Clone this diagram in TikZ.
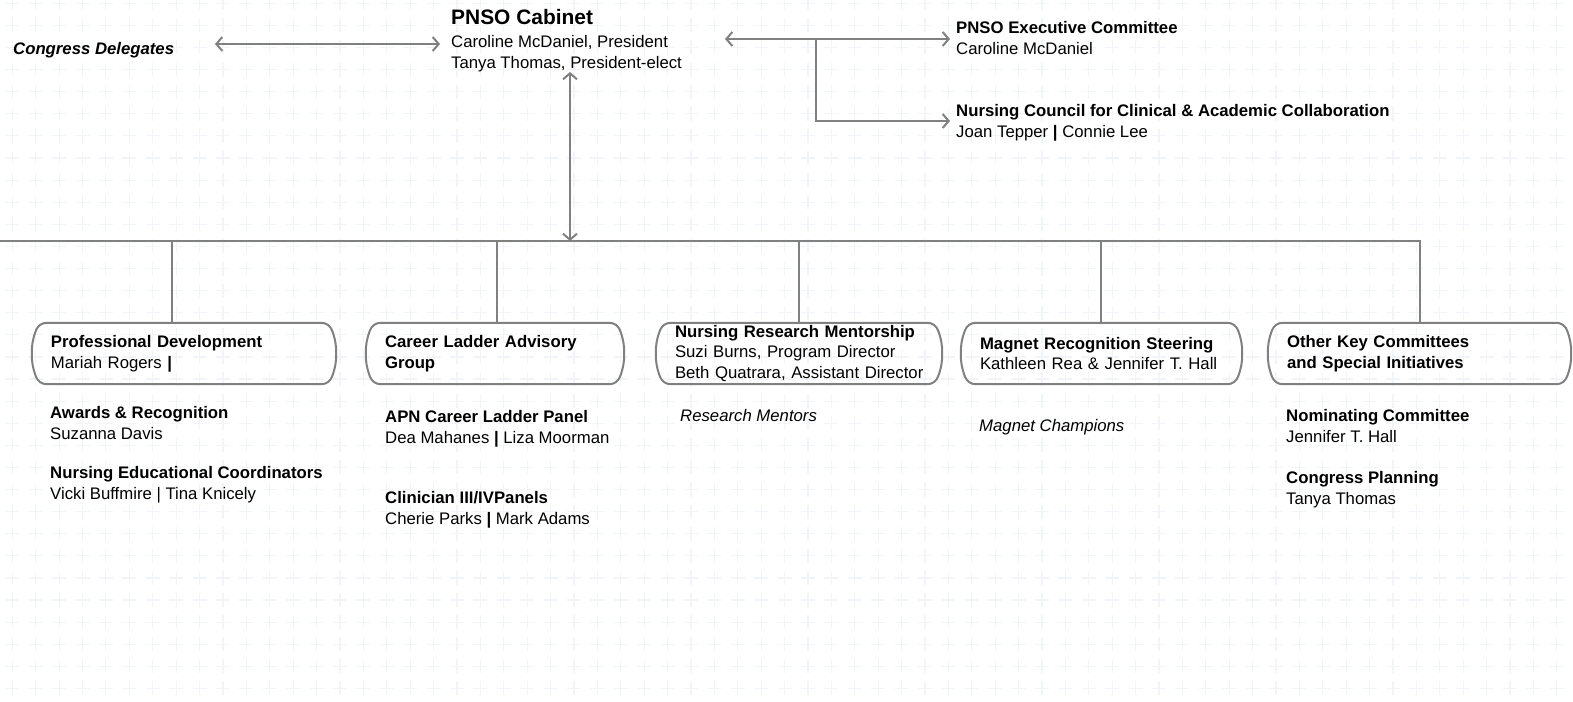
\documentclass[tikz,border=0pt]{standalone}
\usepackage{fontspec}
\setmainfont{Liberation Sans}
\usepackage{tikz}
\usetikzlibrary{arrows, arrows.meta}
\usetikzlibrary{calc}
\definecolor{linegray}{RGB}{128,128,128}
\definecolor{crossblue}{RGB}{241,245,250}
\newcommand{\chartfont}{\fontsize{16.8}{21}\selectfont}
\tikzstyle{link}=[draw=linegray, line width=2pt]
\tikzstyle{arrow}=[link, arrows={Straight Barb[length=6pt,width=14pt]-Straight Barb[length=6pt,width=14pt]}]
\tikzstyle{boxline}=[draw=linegray, line width=2pt]
\tikzset{
    txt/.style={anchor=north west, inner sep=0pt, align=left, font=\chartfont},
    unit/.style={rectangle, inner xsep=19bp, inner ysep=0pt, align=left,
                 minimum height=61bp, text width=#1bp, font=\chartfont},
    gridcross/.style={draw=crossblue, line width=1.2pt}
}

\begin{document}
\begin{tikzpicture}[x=1bp, y=-1bp]
  \useasboundingbox (0,0) rectangle (1573,702);

  % background
  \fill[white] (0,0) rectangle (1573,702);
  \draw[gridcross] foreach \i in {0,...,66} { foreach \j in {0,...,31} {
      (12.3+23.4*\i-7, 3.3+22.1*\j) -- ++(14,0)
      (12.3+23.4*\i, 3.3+22.1*\j-7) -- ++(0,14) } };

  % top level
  \node[txt, font=\chartfont\bfseries\itshape] (deleg) at (13,42) {Congress Delegates};
  \node[txt, font=\fontsize{21}{24}\selectfont\bfseries] (cabinet) at (451,9.5) {PNSO Cabinet};
  \node[txt] (cabinetNames) at (451,35) {Caroline McDaniel, President\\Tanya Thomas, President-elect};
  \node[txt] (exec) at (956,21) {\textbf{PNSO Executive Committee}\\Caroline McDaniel};
  \node[txt] (council) at (956,104) {\textbf{Nursing Council for Clinical \& Academic Collaboration}\\Joan Tepper \textbf{|} Connie Lee};

  \coordinate (delegE) at (215,44);
  \coordinate (cabinetW) at (440,44);
  \coordinate (cabinetE) at (725,39);
  \coordinate (split) at (816,39);
  \coordinate (execW) at (950,39);
  \coordinate (councilW) at (950,121);
  \coordinate (cabinetS) at (570,72);
  \coordinate (hub) at (570,241);
  \coordinate (busW) at (0,241);

  % committees
  \node[unit=266] (pd) at (184,353.5) {\textbf{Professional Development}\\Mariah Rogers \textbf{|}};
  \node[unit=220] (cl) at (495,353.5) {\textbf{Career Ladder Advisory}\\\textbf{Group}};
  \node[unit=248] (nr) at (799,353.5) {\textbf{Nursing Research Mentorship}\\Suzi Burns, Program Director\\\mbox{Beth Quatrara, Assistant Director}};
  \node[unit=243] (mr) at (1101.5,353.5) {\textbf{Magnet Recognition Steering}\\Kathleen Rea \& Jennifer T. Hall};
  \node[unit=265] (ok) at (1419.5,353.5) {\textbf{Other Key Committees}\\\textbf{and Special Initiatives}};

  \node[txt] (awards) at (50,406) {\textbf{Awards \& Recognition}\\Suzanna Davis};
  \node[txt] (educators) at (50,466) {\textbf{Nursing Educational Coordinators}\\Vicki Buffmire | Tina Knicely};
  \node[txt] (apn) at (385,410) {\textbf{APN Career Ladder Panel}\\Dea Mahanes \textbf{|} Liza Moorman};
  \node[txt] (clinician) at (385,491) {\textbf{Clinician III/IVPanels}\\Cherie Parks \textbf{|} Mark Adams};
  \node[txt, font=\chartfont\itshape] (mentors) at (680,409) {Research Mentors};
  \node[txt, font=\chartfont\itshape] (champions) at (979,419) {Magnet Champions};
  \node[txt] (nominating) at (1286,409) {\textbf{Nominating Committee}\\Jennifer T. Hall};
  \node[txt] (planning) at (1286,471) {\textbf{Congress Planning}\\Tanya Thomas};

  \foreach \b in {pd,cl,nr,mr,ok}
    \draw[boxline] ([xshift=15bp]\b.north west) -- ([xshift=-15bp]\b.north east)
      to[out=0,in=110] ([xshift=-4bp,yshift=-8bp]\b.north east)
      to[out=-70,in=90] (\b.east)
      to[out=-90,in=70] ([xshift=-4bp,yshift=8bp]\b.south east)
      to[out=-110,in=0] ([xshift=-15bp]\b.south east)
      -- ([xshift=15bp]\b.south west)
      to[out=180,in=-70] ([xshift=4bp,yshift=8bp]\b.south west)
      to[out=110,in=-90] (\b.west)
      to[out=90,in=-110] ([xshift=4bp,yshift=-8bp]\b.north west)
      to[out=70,in=180] cycle;

  % connectors
  \draw[arrow] (delegE) -- (cabinetW);
  \draw[arrow] (cabinetE) -- (execW);
  \draw[link, -{Straight Barb[length=6pt,width=14pt]}] (split) |- (councilW);
  \draw[arrow] (cabinetS) -- (hub);
  \draw[link] (busW) -| (ok.north);
  \foreach \b/\dx in {pd/-12, cl/2, nr/0, mr/-0.5}
    \draw[link] ([xshift=\dx bp]\b.north) -- ([xshift=\dx bp]\b.north |- busW);
\end{tikzpicture}
\end{document}
